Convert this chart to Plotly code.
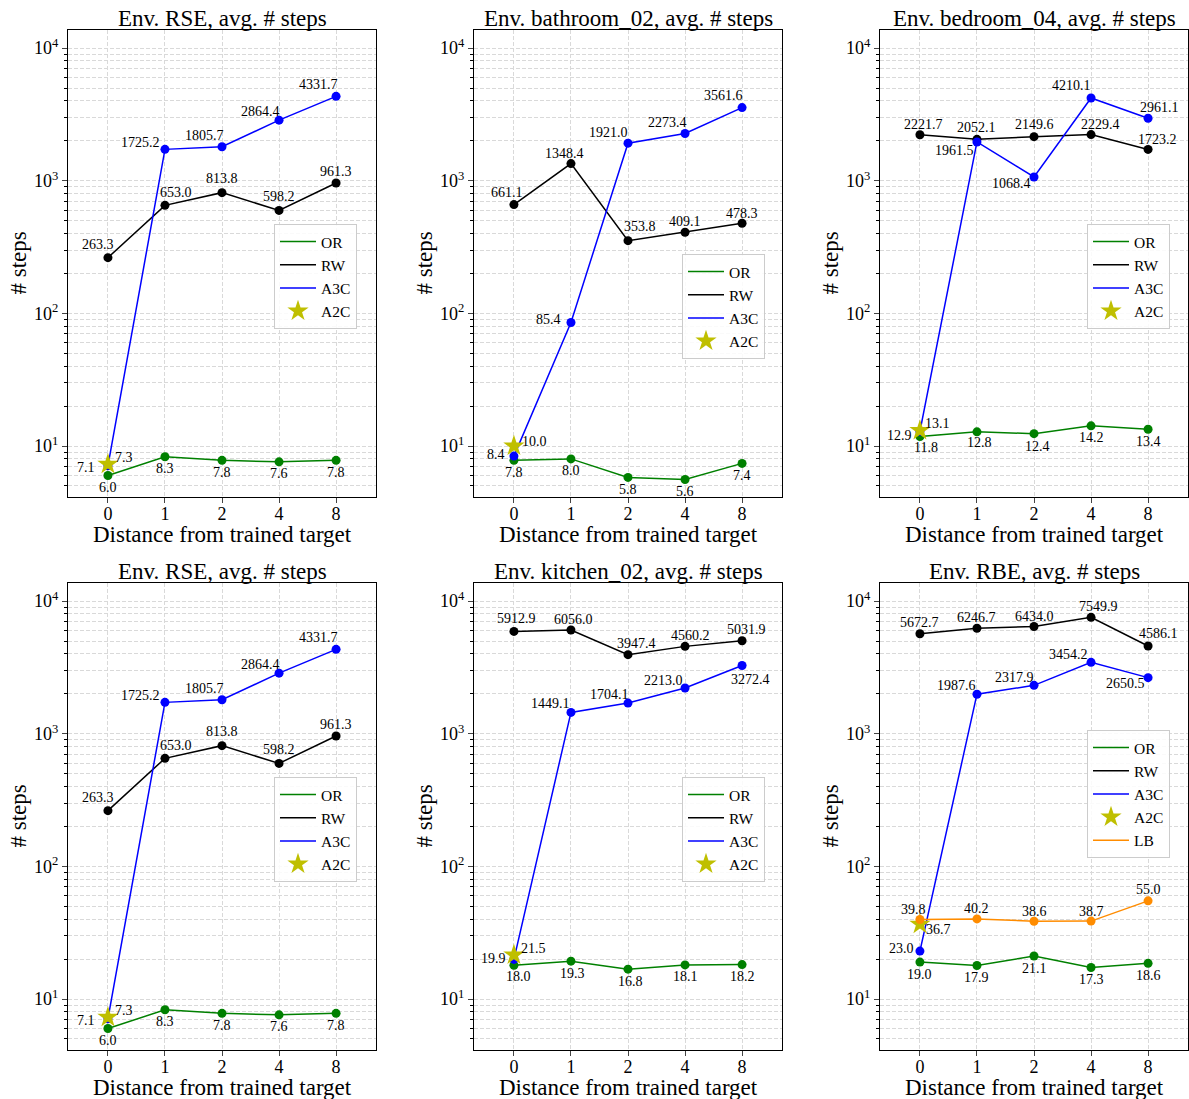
import numpy as np
import plotly.graph_objects as go

# ---------------- data ----------------
distance_labels = ["0", "1", "2", "4", "8"]
y_tick_vals = [10, 100, 1000, 10000]
y_tick_text = ["10<sup>1</sup>", "10<sup>2</sup>", "10<sup>3</sup>", "10<sup>4</sup>"]

titles = ["Env. RSE, avg. # steps", "Env. bathroom_02, avg. # steps", "Env. bedroom_04, avg. # steps",
          "Env. RSE, avg. # steps", "Env. kitchen_02, avg. # steps", "Env. RBE, avg. # steps"]

rse_or = [6.0, 8.3, 7.8, 7.6, 7.8]
rse_rw = [263.3, 653.0, 813.8, 598.2, 961.3]
rse_a3c = [7.1, 1725.2, 1805.7, 2864.4, 4331.7]
rse_a2c = 7.3

bath_or = [7.8, 8.0, 5.8, 5.6, 7.4]
bath_rw = [661.1, 1348.4, 353.8, 409.1, 478.3]
bath_a3c = [8.4, 85.4, 1921.0, 2273.4, 3561.6]
bath_a2c = 10.0

bed_or = [11.8, 12.8, 12.4, 14.2, 13.4]
bed_rw = [2221.7, 2052.1, 2149.6, 2229.4, 1723.2]
bed_a3c = [12.9, 1961.5, 1068.4, 4210.1, 2961.1]
bed_a2c = 13.1

kit_or = [18.0, 19.3, 16.8, 18.1, 18.2]
kit_rw = [5912.9, 6056.0, 3947.4, 4560.2, 5031.9]
kit_a3c = [19.9, 1449.1, 1704.1, 2213.0, 3272.4]
kit_a2c = 21.5

rbe_or = [19.0, 17.9, 21.1, 17.3, 18.6]
rbe_rw = [5672.7, 6246.7, 6434.0, 7549.9, 4586.1]
rbe_a3c = [23.0, 1987.6, 2317.9, 3454.2, 2650.5]
rbe_a2c = 36.7
rbe_lb = [39.8, 40.2, 38.6, 38.7, 55.0]

# ---------------- label offsets (pixels: dx right, dy down) ----------------
off_or_default = [(0, 12)] * 5
offsets = [
    dict(OR=off_or_default,
         RW=[(-10, -13), (11, -13), (0, -14), (0, -14), (0, -12)],
         A3C=[(-22, 2), (-24, -7), (-18, -11), (-19, -9), (-18, -12)],
         A2C=(16, -7)),
    dict(OR=off_or_default,
         RW=[(-7, -12), (-6, -10), (12, -14), (0, -11), (0, -10)],
         A3C=[(-18, -2), (-22, -3), (-20, -11), (-18, -11), (-19, -12)],
         A2C=(21, -5)),
    dict(OR=[(6, 11), (3, 11), (3, 13), (0, 12), (0, 12)],
         RW=[(4, -10), (0, -12), (0, -12), (9, -10), (9, -10)],
         A3C=[(-20, 4), (-22, 9), (-23, 7), (-20, -12), (11, -11)],
         A2C=(18, -7)),
    dict(OR=off_or_default,
         RW=[(-10, -13), (11, -13), (0, -14), (0, -14), (0, -12)],
         A3C=[(-22, 2), (-24, -7), (-18, -11), (-19, -9), (-18, -12)],
         A2C=(16, -7)),
    dict(OR=[(5, 11), (2, 12), (2, 12), (0, 12), (0, 12)],
         RW=[(3, -13), (3, -11), (8, -11), (5, -11), (4, -11)],
         A3C=[(-20, -1), (-20, -9), (-19, -9), (-22, -8), (8, 14)],
         A2C=(20, -6)),
    dict(OR=off_or_default,
         RW=[(0, -11), (0, -11), (0, -10), (7, -11), (10, -13)],
         A3C=[(-18, -3), (-20, -9), (-20, -8), (-23, -8), (-23, 6)],
         A2C=(19, 5),
         LB=[(-6, -10), (0, -10), (0, -10), (0, -10), (0, -11)]),
]

panels = [
    dict(OR=rse_or, RW=rse_rw, A3C=rse_a3c, A2C=rse_a2c),
    dict(OR=bath_or, RW=bath_rw, A3C=bath_a3c, A2C=bath_a2c),
    dict(OR=bed_or, RW=bed_rw, A3C=bed_a3c, A2C=bed_a2c),
    dict(OR=rse_or, RW=rse_rw, A3C=rse_a3c, A2C=rse_a2c),
    dict(OR=kit_or, RW=kit_rw, A3C=kit_a3c, A2C=kit_a2c),
    dict(OR=rbe_or, RW=rbe_rw, A3C=rbe_a3c, A2C=rbe_a2c, LB=rbe_lb),
]

# ---------------- styles ----------------
W, H = 1189, 1099
FONT = "Liberation Serif"
colors = dict(OR="#008000", RW="#000000", A3C="#0000ff", A2C="#bfbf00", LB="#ff8c00")
col_px = [(68, 376), (474, 782), (880, 1188)]
row_px = [(30, 497), (583, 1050)]
legend_pos = [(357, 224), (765, 254), (1170, 224), (357, 777), (765, 777), (1170, 730)]
grid_col = "#d9d9d9"
grid_dash = "4px,2px"

xpos = list(range(len(distance_labels)))
minor_vals = [m * 10 ** e for e in range(0, 5) for m in range(2, 10)]

fig = go.Figure()
annotations = []

for i, p in enumerate(panels):
    r, c = divmod(i, 3)
    idx = i + 1
    xa = "x" if idx == 1 else f"x{idx}"
    ya = "y" if idx == 1 else f"y{idx}"
    leg = "legend" if idx == 1 else f"legend{idx}"
    x0, x1 = col_px[c]
    y0, y1 = row_px[r]

    fig.layout[f"xaxis{'' if idx == 1 else idx}"] = dict(
        domain=[x0 / W, x1 / W], anchor=ya, range=[-0.7, 4.7],
        tickvals=xpos, ticktext=distance_labels, ticks="outside", ticklen=5,
        ticklabelstandoff=-5,
        tickfont=dict(family=FONT, size=18, color="black"),
        showline=True, linecolor="black", linewidth=1, mirror=True,
        showgrid=True, gridcolor=grid_col, griddash=grid_dash, gridwidth=1,
        zeroline=False)
    fig.layout[f"yaxis{'' if idx == 1 else idx}"] = dict(
        domain=[1 - y1 / H, 1 - y0 / H], anchor=xa, type="log",
        range=[np.log10(4.13), np.log10(13700)],
        tickvals=y_tick_vals, ticktext=y_tick_text, ticks="outside", ticklen=5,
        tickfont=dict(family=FONT, size=18, color="black"),
        showline=True, linecolor="black", linewidth=1, mirror=True,
        showgrid=True, gridcolor=grid_col, griddash=grid_dash, gridwidth=1,
        zeroline=False,
        minor=dict(tickvals=minor_vals, ticks="outside", ticklen=3, tickcolor="black",
                   showgrid=True, gridcolor=grid_col, griddash=grid_dash, gridwidth=1))

    lx, ly = legend_pos[i]
    fig.layout[leg] = dict(x=lx / W, y=1 - ly / H, xanchor="right", yanchor="top",
                           bgcolor="rgba(255,255,255,0.85)", bordercolor="#cccccc", borderwidth=1,
                           font=dict(family=FONT, size=15.5, color="black"),
                           itemwidth=36, tracegroupgap=0)

    order = ["OR", "RW", "A3C", "A2C"] + (["LB"] if "LB" in p else [])
    for name in order:
        vals = p[name]
        if name == "A2C":
            fig.add_trace(go.Scatter(x=[0], y=[vals], mode="markers", name=name,
                                     marker=dict(symbol="star", size=16, color=colors[name]),
                                     xaxis=xa, yaxis=ya, legend=leg, showlegend=True))
            dx, dy = offsets[i][name]
            annotations.append(dict(x=0, y=np.log10(vals), xref=xa, yref=ya, text=f"{vals:.1f}",
                                    showarrow=False, xshift=dx, yshift=-dy,
                                    xanchor="center", yanchor="middle",
                                    font=dict(family=FONT, size=14, color="black")))
            continue
        fig.add_trace(go.Scatter(x=xpos, y=vals, mode="lines", name=name,
                                 line=dict(color=colors[name], width=1.5),
                                 xaxis=xa, yaxis=ya, legend=leg, showlegend=True))
        fig.add_trace(go.Scatter(x=xpos, y=vals, mode="markers", name=name,
                                 marker=dict(size=9, color=colors[name]),
                                 xaxis=xa, yaxis=ya, legend=leg, showlegend=False))
        for k, v in enumerate(vals):
            dx, dy = offsets[i][name][k]
            annotations.append(dict(x=xpos[k], y=np.log10(v), xref=xa, yref=ya, text=f"{v:.1f}",
                                    showarrow=False, xshift=dx, yshift=-dy,
                                    xanchor="center", yanchor="middle",
                                    font=dict(family=FONT, size=14, color="black")))

    # panel title
    annotations.append(dict(x=(x0 + x1) / 2 / W, y=1 - (y0 - 12) / H, xref="paper", yref="paper",
                            text=titles[i], showarrow=False, xanchor="center", yanchor="middle",
                            font=dict(family=FONT, size=23, color="black")))
    # x-axis title
    annotations.append(dict(x=(x0 + x1) / 2 / W, y=1 - (y1 + 37) / H, xref="paper", yref="paper",
                            text="Distance from trained target", showarrow=False,
                            xanchor="center", yanchor="middle",
                            font=dict(family=FONT, size=23, color="black")))
    # y-axis title
    annotations.append(dict(x=(x0 - 50) / W, y=1 - ((y0 + y1) / 2) / H, xref="paper", yref="paper",
                            text="# steps", showarrow=False, textangle=-90,
                            xanchor="center", yanchor="middle",
                            font=dict(family=FONT, size=23, color="black")))

fig.update_layout(width=W, height=H, margin=dict(l=0, r=0, t=0, b=0),
                  plot_bgcolor="white", paper_bgcolor="white",
                  annotations=annotations,
                  font=dict(family=FONT, color="black"))

fig.write_html("out.html", config={"displayModeBar": False},
               post_script="document.body.style.margin='0';document.body.style.overflow='hidden';")
